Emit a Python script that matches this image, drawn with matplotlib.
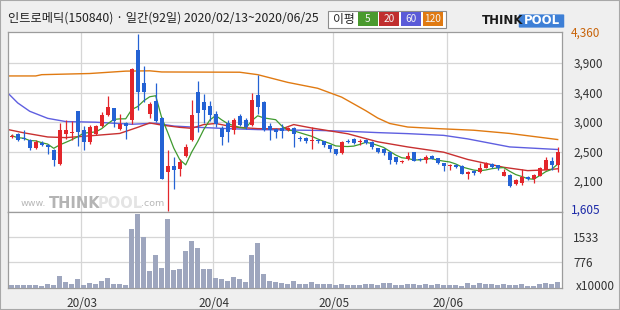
import numpy as np
import pandas as pd
import matplotlib
matplotlib.use("Agg")
import matplotlib.pyplot as plt
from matplotlib.patches import Rectangle, FancyBboxPatch

plt.rcParams['font.family'] = ['Noto Sans CJK KR', 'DejaVu Sans']

# trading days 2020/02/13 ~ 2020/06/25 (KRX holidays removed)
holidays = ['2020-04-15', '2020-04-30', '2020-05-01', '2020-05-05']
dates = [d for d in pd.bdate_range('2020-02-13', '2020-06-25')
         if d.strftime('%Y-%m-%d') not in holidays]

opens = [2745, 2790, 2735, 2708, 2585, 2660, 2630, 2550, 2330, 2790,
         2805, 3150, 2855, 2670, 2790, 2916, 3090, 3195, 2880, 2960,
         3020, 4110, 3595, 3105, 3310, 3050, 2200, 2305, 2250, 2460,
         2700, 3455, 3300, 3230, 3115, 2895, 2960, 2855, 3080, 3010,
         2935, 3410, 3300, 2915, 2880, 2895, 2855, 2895, 2728, 2730,
         2680, 2705, 2680, 2618, 2555, 2505, 2690, 2725, 2675, 2710,
         2670, 2575, 2560, 2510, 2435, 2360, 2410, 2515, 2410, 2385,
         2460, 2425, 2340, 2300, 2320, 2305, 2175, 2225, 2200, 2270,
         2330, 2310, 2140, 2165, 2020, 2030, 2130, 2095, 2150, 2240,
         2370, 2315]
highs = [2790, 2818, 2860, 2720, 2700, 2680, 2640, 2560, 2960, 3010,
         3000, 3160, 2920, 2930, 2930, 3140, 3390, 3200, 3100, 2990,
         3830, 4360, 3850, 3290, 3590, 3060, 2540, 2440, 2400, 2640,
         3320, 3620, 3420, 3310, 3160, 2920, 3010, 3040, 3110, 3050,
         3430, 3717, 3310, 2960, 2890, 2945, 2905, 2900, 2760, 2745,
         2905, 2720, 2690, 2625, 2570, 2690, 2720, 2735, 2715, 2725,
         2690, 2585, 2575, 2520, 2440, 2390, 2510, 2520, 2420, 2470,
         2475, 2430, 2345, 2335, 2325, 2310, 2225, 2235, 2340, 2360,
         2340, 2320, 2255, 2180, 2100, 2250, 2145, 2175, 2280, 2445,
         2440, 2600]
lows = [2730, 2685, 2700, 2550, 2560, 2610, 2490, 2295, 2320, 2725,
        2710, 2615, 2550, 2640, 2780, 2900, 3080, 2905, 2860, 2720,
        2950, 3170, 3300, 3040, 2990, 2090, 1605, 1940, 2140, 2440,
        2690, 2830, 2960, 3000, 2900, 2620, 2670, 2800, 2920, 2880,
        2920, 3100, 2840, 2700, 2730, 2740, 2840, 2590, 2690, 2660,
        2570, 2660, 2600, 2510, 2470, 2480, 2650, 2645, 2630, 2640,
        2570, 2505, 2470, 2330, 2330, 2350, 2385, 2370, 2370, 2350,
        2400, 2335, 2225, 2240, 2265, 2170, 2095, 2160, 2190, 2260,
        2270, 2230, 2135, 1975, 2010, 2010, 2080, 2040, 2140, 2235,
        2240, 2200]
closes = [2770, 2708, 2715, 2585, 2670, 2630, 2595, 2385, 2855, 2865,
          2835, 2830, 2665, 2900, 2915, 3089, 3210, 3000, 2945, 2920,
          3810, 3445, 3445, 3260, 3000, 2095, 2305, 2235, 2355, 2590,
          3090, 3120, 3170, 3090, 2950, 2750, 2830, 3020, 2935, 2900,
          3325, 3220, 2855, 2865, 2830, 2840, 2895, 2800, 2720, 2685,
          2705, 2685, 2620, 2555, 2490, 2670, 2670, 2655, 2685, 2650,
          2590, 2515, 2495, 2385, 2360, 2380, 2460, 2380, 2385, 2435,
          2405, 2340, 2305, 2320, 2280, 2180, 2210, 2185, 2265, 2340,
          2280, 2270, 2210, 1980, 2085, 2130, 2100, 2165, 2265, 2385,
          2315, 2510]
# volume, x10000 shares
volume = [88, 88, 88, 88, 88, 58, 108, 88, 361, 188,
          118, 270, 88, 149, 128, 209, 300, 128, 118, 88,
          1785, 2240, 1543, 522, 997, 603, 2088, 552, 573, 1118,
          1430, 1209, 573, 573, 300, 270, 219, 330, 280, 188,
          997, 1370, 431, 219, 188, 138, 118, 218, 109, 109,
          170, 109, 109, 109, 80, 118, 100, 100, 100, 118,
          118, 100, 150, 140, 100, 100, 130, 110, 90, 110,
          100, 110, 100, 90, 100, 60, 140, 100, 150, 120,
          110, 100, 110, 100, 100, 110, 70, 60, 110, 150,
          110, 190]

# moving averages (day index, price)
ma20_x = [-0.6, 2, 6, 9, 14, 18, 21, 23, 25, 28, 30, 32, 34, 37, 41, 45, 47,
          50, 56, 61, 66, 72, 76, 82, 86, 89, 91]
ma20_y = [2865, 2815, 2750, 2740, 2775, 2805, 2900, 2968, 2935, 2900, 2885,
          2943, 2960, 2905, 2880, 2875, 2943, 2890, 2800, 2675, 2595, 2513,
          2400, 2278, 2226, 2237, 2255]
ma60_x = [-0.6, 1, 3, 6, 9, 14, 20, 24, 27, 30, 36, 41, 46, 51, 56, 61, 66,
          72, 76, 83, 91]
ma60_y = [3430, 3280, 3150, 3040, 2990, 2980, 2948, 2965, 2920, 2905, 2880,
          2865, 2858, 2852, 2838, 2818, 2802, 2775, 2720, 2595, 2555]
ma120_x = [-0.6, 4, 5, 13, 19, 23, 25, 38, 41, 46, 51, 55, 59, 61, 63, 66,
           71, 77, 83, 91]
ma120_y = [3700, 3700, 3720, 3738, 3775, 3780, 3762, 3758, 3720, 3600, 3508,
           3370, 3160, 3045, 2960, 2905, 2880, 2855, 2805, 2710]

price_ticks = [2064, 2523, 2982, 3442, 3901]
price_labels = ['2,100', '2,500', '3,000', '3,400', '3,900']
vol_ticks = [776, 1533]

RED = '#e3262b'
BLUE = '#2462d4'
W, H = 620, 310


def fx(px):
    return px / W


def fy(py):
    return 1 - py / H


fig = plt.figure(figsize=(6.2, 3.1), dpi=100, facecolor='#efefef')
ax = fig.add_axes([fx(7.7), fy(212), (562.3 - 7.7) / W, (212 - 31.5) / H])
axv = fig.add_axes([fx(7.7), fy(288.3), (562.3 - 7.7) / W, (288.3 - 212) / H], sharex=ax)

x = np.arange(len(dates))
o = np.array(opens, float)
c = np.array(closes, float)
hi = np.array(highs, float)
lo = np.array(lows, float)
cols = np.where(c >= o, RED, BLUE)

# month boundaries
month_idx = [i for i in range(1, len(dates)) if dates[i].month != dates[i - 1].month]
for a in (ax, axv):
    a.set_facecolor('white')
    for m in month_idx:
        a.axvline(m - 0.5, color='#d6d6d6', lw=0.9, zorder=1)
    for s in a.spines.values():
        s.set_color('#9c9c9c')
        s.set_linewidth(0.9)

for v in price_ticks:
    ax.axhline(v, color='#d6d6d6', lw=0.9, zorder=1)
for v in vol_ticks:
    axv.axhline(v, color='#d6d6d6', lw=0.9, zorder=1)

# watermark
wm_y = fy(204)
fig.text(fx(21), wm_y, 'www.', fontsize=6.8, color='#b8b8b8', va='center', family='DejaVu Sans')
fig.text(fx(49), wm_y, 'THINK', fontsize=10.5, color='#b4b4b4', va='center', weight='bold',
         family='DejaVu Sans')
fig.text(fx(98), wm_y, 'POOL', fontsize=10.5, color='#e4e4e4', va='center', weight='bold',
         family='DejaVu Sans')
fig.text(fx(141), wm_y, '.com', fontsize=6.8, color='#b8b8b8', va='center', family='DejaVu Sans')

# moving averages
ma5 = pd.Series(c).rolling(5, min_periods=1).mean()
ax.plot(ma120_x, ma120_y, color='#e07a12', lw=1.0, zorder=2)
ax.plot(ma60_x, ma60_y, color='#5f5fe0', lw=1.0, zorder=2)
ax.plot(ma20_x, ma20_y, color='#c83030', lw=1.0, zorder=2)
ax.plot(x, ma5, color='#3f9a2f', lw=0.9, zorder=2)

# candles
body_lo = np.minimum(o, c)
body_h = np.abs(c - o)
tiny = body_h < 14
body_lo = np.where(tiny, (o + c) / 2 - 7, body_lo)
body_h = np.where(tiny, 14, body_h)
ax.vlines(x, lo, hi, colors=cols, lw=0.9, zorder=3)
ax.bar(x, body_h, bottom=body_lo, width=0.7, color=cols, lw=0, zorder=4)

ax.set_xlim(-0.67, 91.77)
ax.set_ylim(1582, 4392)
ax.yaxis.tick_right()
ax.set_yticks(price_ticks)
ax.set_yticklabels(price_labels)
ax.tick_params(axis='y', length=0, pad=8, labelsize=8.5, labelcolor='#333333')
ax.tick_params(axis='x', length=0, labelbottom=False)
tr = ax.get_yaxis_transform()
ax.text(1.016, 4360, '4,360', transform=tr, va='center', ha='left', fontsize=8.5, color='#c8640a')
ax.text(1.016, 1605, '1,605', transform=tr, va='center', ha='left', fontsize=8.5, color='#1c2aa8')

# volume
axv.bar(x, volume, width=0.84, color='#9ea6be', lw=0, zorder=3)
axv.set_ylim(-12, 2291)
axv.yaxis.tick_right()
axv.set_yticks(vol_ticks)
axv.set_yticklabels([str(v) for v in vol_ticks])
axv.tick_params(axis='y', length=0, pad=8, labelsize=8.5, labelcolor='#333333')
axv.set_xticks([m - 0.3 for m in month_idx])
axv.set_xticklabels([dates[m].strftime('%y/%m') for m in month_idx])
axv.tick_params(axis='x', length=0, pad=6, labelsize=8.5, labelcolor='#333333')
fig.text(fx(576), fy(286), 'x10000', fontsize=8.5, color='#333333', va='center', ha='left')

# title
fig.text(fx(8), fy(18), '인트로메딕(150840) · 일간(92일) 2020/02/13~2020/06/25',
         fontsize=8.8, color='#222222', va='center', ha='left')

# legend box
fig.patches.append(Rectangle((fx(328), fy(27.5)), (446 - 328) / W, 17 / H, transform=fig.transFigure,
                             facecolor='white', edgecolor='#8c8c8c', lw=0.8))
fig.text(fx(344), fy(19), '이평', fontsize=8.5, color='#222222', va='center', ha='center')
leg = [('5', '#4a9a2e', 357.7, 377.5), ('20', '#c02e2e', 379.4, 399),
       ('60', '#5b5bd8', 401, 421), ('120', '#e07a12', 423, 442.7)]
for lab, col, x0, x1 in leg:
    fig.patches.append(Rectangle((fx(x0), fy(25.5)), (x1 - x0) / W, 13 / H,
                                 transform=fig.transFigure, facecolor=col, lw=0))
    fig.text(fx((x0 + x1) / 2), fy(19), lab, fontsize=7.3, color='#f4f4f4', va='center', ha='center')

# logo
fig.text(fx(482), fy(21), 'THINK', fontsize=8.5, weight='bold', color='#1a1a1a', va='center',
         family='DejaVu Sans')
fig.patches.append(FancyBboxPatch((fx(520), fy(27)), 43 / W, 12 / H, transform=fig.transFigure,
                                  boxstyle='round,pad=0.002', facecolor='#3d7fd6', lw=0))
fig.text(fx(541.5), fy(21), 'POOL', fontsize=8.5, weight='bold', color='white', va='center',
         ha='center', family='DejaVu Sans')

fig.patches.append(Rectangle((0, 0), 1, 1, transform=fig.transFigure, fill=False,
                             edgecolor='#a8a8a8', lw=1.5))

fig.savefig('out.png', dpi=100, facecolor=fig.get_facecolor())
